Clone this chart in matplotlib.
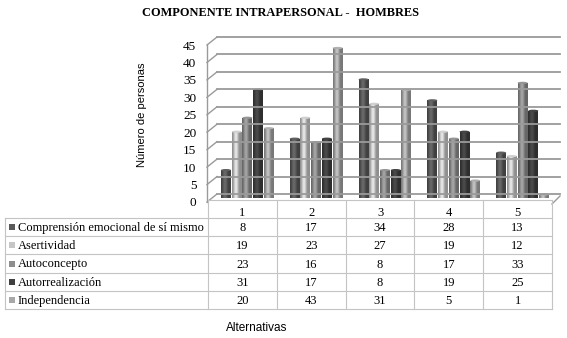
import numpy as np
import matplotlib
matplotlib.use("Agg")
import matplotlib.pyplot as plt
from matplotlib.lines import Line2D
from matplotlib.patches import Rectangle, Ellipse
from matplotlib.transforms import ScaledTranslation

# data
alternativas = ["1", "2", "3", "4", "5"]
series_names = ["Comprensión emocional de sí mismo", "Asertividad", "Autoconcepto",
                "Autorrealización", "Independencia"]
comprension = [8, 17, 34, 28, 13]
asertividad = [19, 23, 27, 19, 12]
autoconcepto = [23, 16, 8, 17, 33]
autorrealizacion = [31, 17, 8, 19, 25]
independencia = [20, 43, 31, 5, 1]
series_vals = [comprension, asertividad, autoconcepto, autorrealizacion, independencia]
colors = ["#5a5a5a", "#c6c6c6", "#8e8e8e", "#404040", "#a8a8a8"]

W, H = 567, 338
serif = "Liberation Serif"
sans = "Liberation Sans"

def P(x, y):
      # pixel (top-left origin) -> figure fraction
      return x / W, 1 - y / H

def fline(x0, y0, x1, y1, c="#9a9a9a", lw=1.0, z=1):
      a, b = P(x0, y0)
      c2, d = P(x1, y1)
      fig.add_artist(Line2D([a, c2], [b, d], color=c, lw=lw, zorder=z))

fig = plt.figure(figsize=(W / 100, H / 100), dpi=100)

# main plot (mid plane of the 3d box)
ax_l, ax_r, ax_t, ax_b = 213, 557, 41, 198
ax = fig.add_axes([ax_l / W, 1 - ax_b / H, (ax_r - ax_l) / W, (ax_b - ax_t) / H])
ax.set_facecolor("none")
for s in ax.spines.values():
      s.set_visible(False)

x = np.arange(1, len(alternativas) + 1)
pitch = 0.156
bw = 0.145
upp = (ax_b - ax_t) / 45.0  # pixels per unit

for i, (vals, col) in enumerate(zip(series_vals, colors)):
      base = np.array(matplotlib.colors.to_rgb(col))
      t = np.linspace(0, 1, 40)
      f = 0.72 + 0.45 * np.sin(np.pi * np.clip(t * 1.25, 0, 1)) ** 2
      img = np.clip(base[None, :] * f[:, None], 0, 1)[None, :, :]
      rects = ax.bar(x + (i - 2) * pitch, vals, width=bw, color=col, zorder=3, lw=0)
      for r, v in zip(rects, vals):
            im = ax.imshow(img, extent=[r.get_x(), r.get_x() + bw, 0, v],
                           aspect="auto", interpolation="bilinear", zorder=3)
            im.set_clip_path(r)
            cap = Ellipse((r.get_x() + bw / 2, v), bw, 2.2 / upp,
                          facecolor=np.clip(base * 1.05, 0, 1), edgecolor="none", zorder=4)
            ax.add_patch(cap)

ax.set_xlim(0.5, 5.5)
ax.set_ylim(0, 45)
ax.set_xticks([])
ax.set_yticks(range(0, 46, 5))
ax.tick_params(axis="y", length=0, pad=12, labelsize=9.5)
for lab in ax.get_yticklabels():
      lab.set_fontfamily(serif)
      lab.set_transform(lab.get_transform() + ScaledTranslation(0, -4 / 100, fig.dpi_scale_trans))

# back wall gridlines and left wall diagonals
for v in range(0, 46, 5):
      yb = ax_b - 4 - v * upp
      fline(217, yb, 560, yb, lw=1.3)
      fline(207, yb + 8, 217, yb, lw=1.0)
fline(207, 45, 207, 202, c="#9a9a9a", lw=1.0)
fline(552, 204, 560, 196, c="#9a9a9a", lw=1.0)

# title and axis labels
fig.text(*P(280, 13), "COMPONENTE INTRAPERSONAL -  HOMBRES", ha="center", va="center",
         fontsize=8.9, fontweight="bold", family=serif)
fig.text(*P(142, 115), "Número de personas", rotation=90, ha="center", va="center",
         fontsize=8, family=sans)
fig.text(*P(257, 328), "Alternativas", ha="center", va="center", fontsize=8.5, family=sans)

# data table
gc = "#c4c4c4"
cols = np.linspace(208, 552, len(alternativas) + 1)
top, hdr = 200, 218
rh = (309 - hdr) / len(series_names)
# header row
fline(208, top, 552, top, c=gc, lw=0.8, z=2)
for cx in cols:
      fline(cx, top, cx, 309, c=gc, lw=0.8, z=2)
for j, a in enumerate(alternativas):
      fig.text(*P((cols[j] + cols[j + 1]) / 2, 213), a, ha="center",
               va="center", fontsize=9, family=serif)
fline(5, hdr, 552, hdr, c=gc, lw=0.8, z=2)
fline(5, hdr, 5, 309, c=gc, lw=0.8, z=2)
for i, (name, vals, col) in enumerate(zip(series_names, series_vals, colors)):
      yc = hdr + (i + 0.5) * rh
      fline(5, hdr + (i + 1) * rh, 552, hdr + (i + 1) * rh, c=gc, lw=0.8, z=2)
      sx, sy = P(9, yc + 3)
      fig.add_artist(Rectangle((sx, sy), 6 / W, 6 / H, transform=fig.transFigure,
                               facecolor=col, edgecolor="none"))
      fig.text(*P(18, yc + 1), name, ha="left", va="center", fontsize=9, family=serif)
      for j, v in enumerate(vals):
            fig.text(*P((cols[j] + cols[j + 1]) / 2, yc + 1), str(v), ha="center",
                     va="center", fontsize=9, family=serif)

fig.savefig("out.png", dpi=100)
